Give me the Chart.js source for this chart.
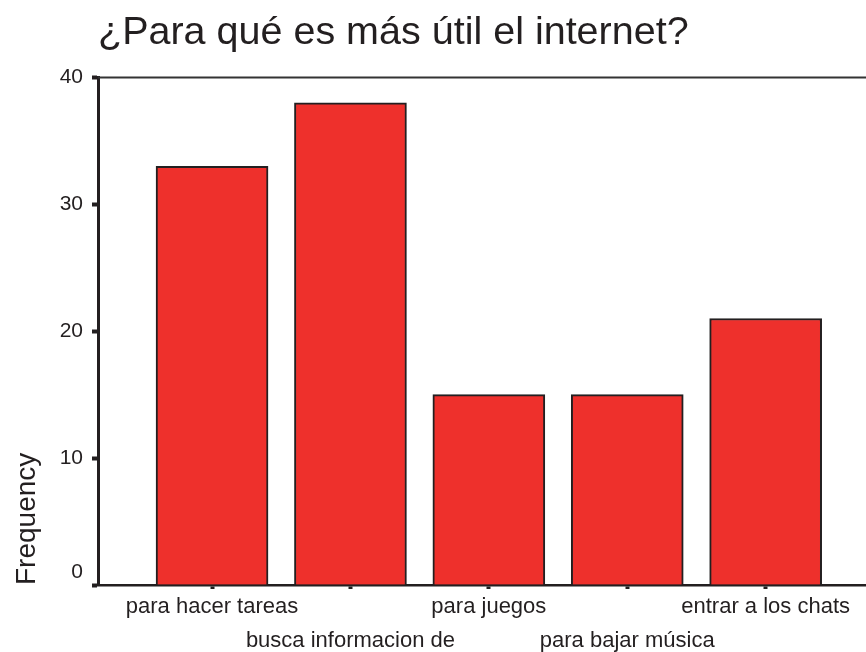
<!DOCTYPE html>
<html>
<head>
<meta charset="utf-8">
<script src="https://cdn.jsdelivr.net/npm/chart.js@4"></script>
<style>
  body { margin: 0; background: #fff; }
</style>
</head>
<body>
<canvas id="grafica" width="866" height="652"></canvas>
<script>
// datos
var categorias = ['para hacer tareas', 'busca informacion de', 'para juegos', 'para bajar música', 'entrar a los chats'];
var frecuencias = [33, 38, 15, 15, 21];
var ticksY = [0, 10, 20, 30, 40];

var negro = '#231f20';

// linea de arriba del marco
var marcoArriba = {
  id: 'marcoArriba',
  afterDraw: function(chart) {
    var a = chart.chartArea;
    var ctx = chart.ctx;
    ctx.save();
    ctx.strokeStyle = '#333';
    ctx.lineWidth = 2;
    ctx.beginPath();
    ctx.moveTo(a.left, a.top);
    ctx.lineTo(a.right, a.top);
    ctx.stroke();
    ctx.restore();
  }
};

var puntos = categorias.map(function(c, i) { return { x: i, y: frecuencias[i] }; });

var ctx = document.getElementById('grafica').getContext('2d');
var grafica = new Chart(ctx, {
  type: 'bar',
  data: {
    datasets: [{
      data: puntos,
      backgroundColor: '#ee302c',
      borderColor: negro,
      borderWidth: 2,
      barThickness: 112
    }]
  },
  options: {
    responsive: false,
    animation: false,
    layout: { padding: 0 },
    plugins: {
      legend: { display: false },
      tooltip: { enabled: false },
      title: {
        display: true,
        text: '¿Para qué es más útil el internet?',
        align: 'start',
        fullSize: false,
        color: negro,
        font: { family: 'Liberation Sans, Arial', size: 39.5, weight: 'normal' },
        padding: { top: 9, bottom: 21 }
      }
    },
    scales: {
      x: {
        type: 'linear',
        offset: false,
        min: -0.824,
        max: 4.725,
        afterBuildTicks: function(s) {
          s.ticks = categorias.map(function(c, i) { return { value: i }; });
        },
        afterFit: function(s) { s.height = 67; },
        border: { display: true, color: negro, width: 2.5 },
        grid: { offset: false, drawOnChartArea: false, tickLength: 4, tickWidth: 4, color: negro },
        ticks: {
          autoSkip: false,
          maxRotation: 0,
          minRotation: 0,
          padding: 1,
          color: negro,
          font: { family: 'Liberation Sans, Arial', size: 22, lineHeight: '34px' },
          callback: function(v) {
            var i = Math.round(v);
            return i % 2 === 0 ? categorias[i] : ['', categorias[i]];
          }
        }
      },
      y: {
        min: 0,
        max: 40,
        afterBuildTicks: function(s) {
          s.ticks = ticksY.map(function(v) { return { value: v }; });
        },
        afterFit: function(s) { s.width = 98; },
        border: { display: true, color: negro, width: 3 },
        grid: { drawOnChartArea: false, tickLength: 6, tickWidth: 4, color: negro },
        ticks: {
          padding: 9,
          color: negro,
          font: { family: 'Liberation Sans, Arial', size: 21 },
          callback: function(v) { return v === 0 ? ['0', ''] : String(v); }
        },
        title: {
          display: true,
          text: 'Frequency',
          align: 'start',
          color: negro,
          font: { family: 'Liberation Sans, Arial', size: 28 },
          padding: { top: 10, bottom: 0 }
        }
      }
    }
  },
  plugins: [marcoArriba]
});
</script>
</body>
</html>
